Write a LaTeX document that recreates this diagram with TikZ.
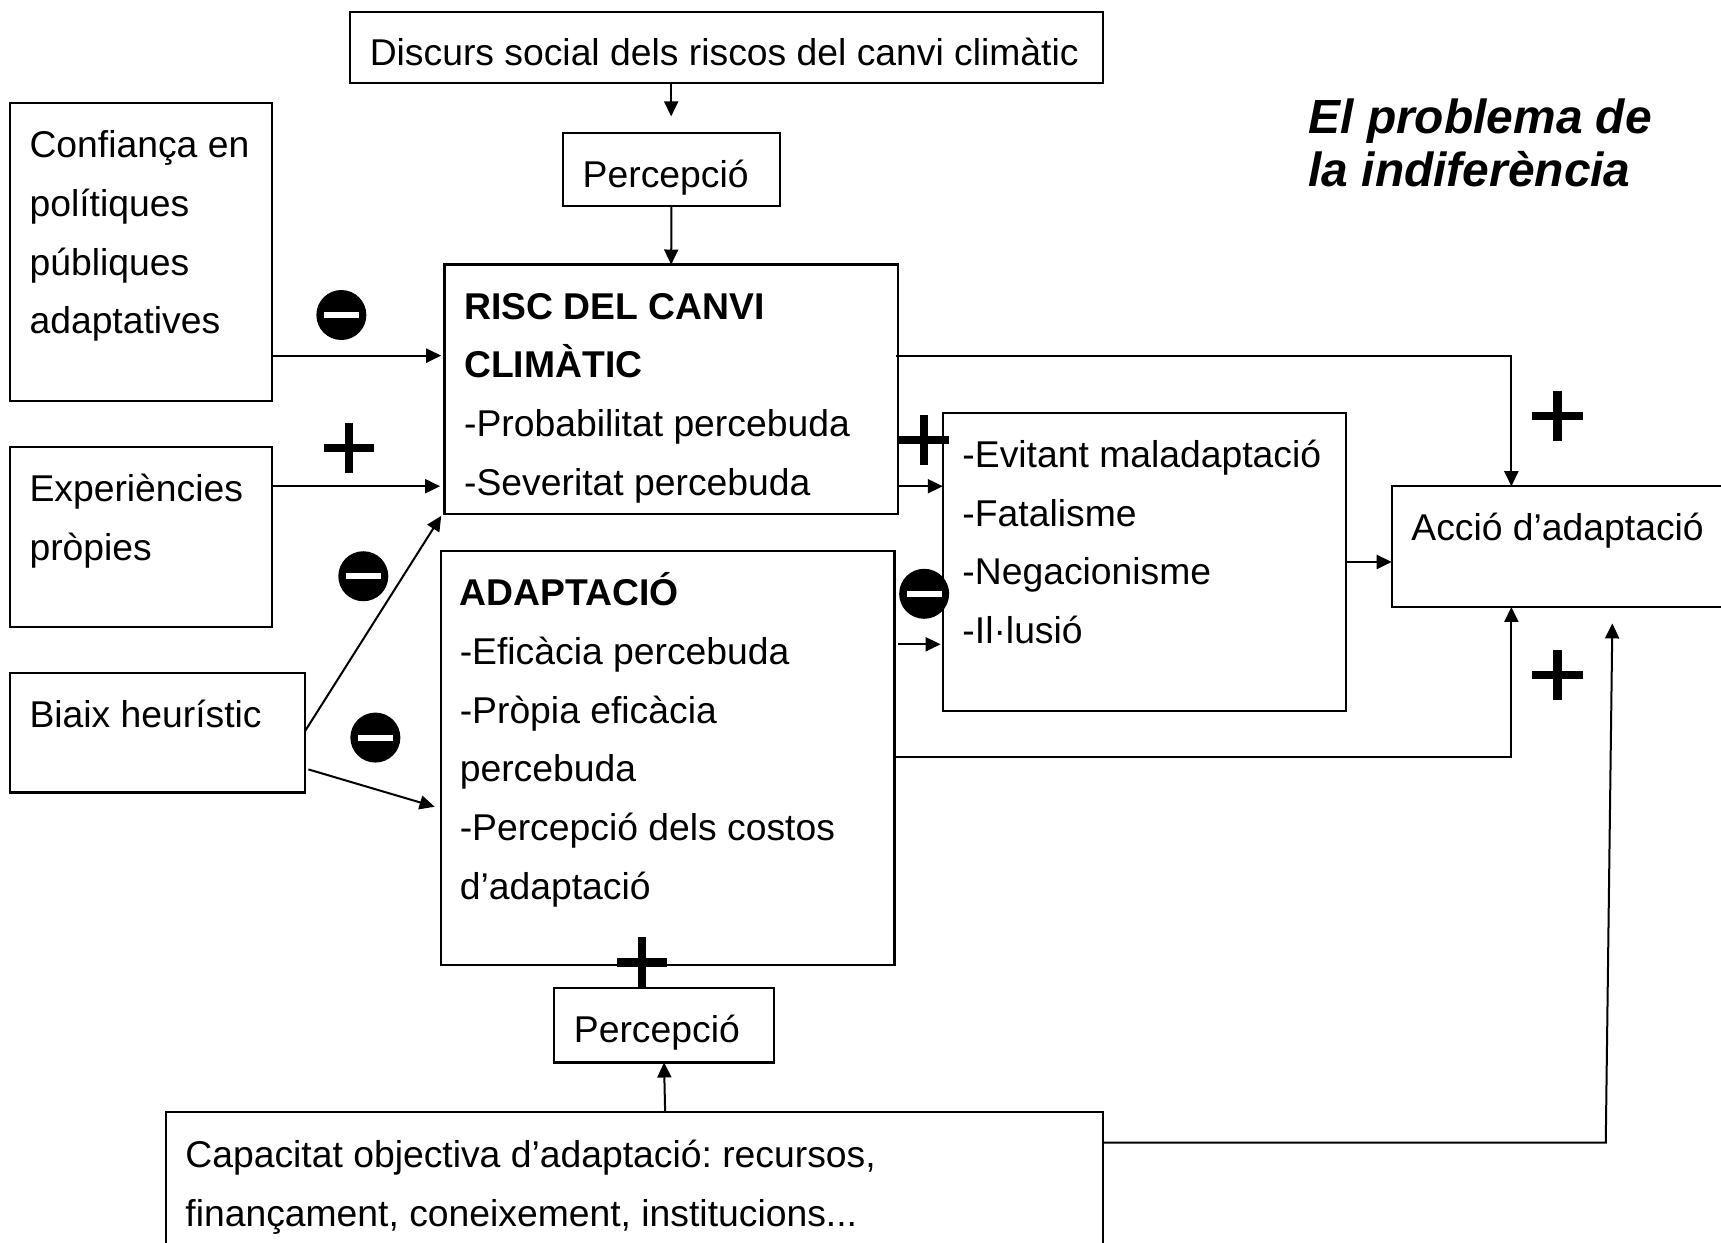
\documentclass[tikz,border=0pt]{standalone}
\usepackage{fontspec}
\setmainfont{Liberation Sans}
\usetikzlibrary{arrows.meta}
\frenchspacing
\newcommand{\fl}{\rule{0pt}{38pt}}
\tikzset{
  bx/.style={draw=black,line width=2.1pt,fill=white,inner sep=0pt,outer sep=0pt},
  txt/.style={anchor=north west,inner sep=0pt,yshift=37.3pt,xshift=-0.3pt,align=left,font=\fontsize{37.3}{58.7}\selectfont\frenchspacing},
  title/.style={anchor=north west,inner sep=0pt,yshift=40.6pt,align=left,font=\fontsize{47.9}{52.7}\selectfont\bfseries\itshape},
  conn/.style={draw=black,line width=2pt,-{Triangle[length=15pt,width=14pt]}},
  plusbar/.style={line width=8.5pt},
  minusdisc/.style={circle,fill=black,inner sep=0pt,minimum size=50pt},
  minusbar/.style={fill=white,draw=none,inner sep=0pt,minimum width=35pt,minimum height=6pt}
}
\newcommand{\plusat}[2]{\draw[plusbar] (#1-23,#2) -- (#1+23,#2) (#1,#2-23) -- (#1,#2+23);}
\newcommand{\minusat}[3]{\node[minusdisc] (#1) at (#2,#3) {}; \node[minusbar] (#1b) at (#1) {};}
\newcommand{\rect}[5]{\node[bx,anchor=north west,minimum width=#4*1.0976pt-#2*1.0976pt,minimum height=#5*1.0976pt-#3*1.0976pt] (#1) at (#2,#3) {};}
\begin{document}
\begin{tikzpicture}[x=1.0976pt,y=-1.0976pt]
\useasboundingbox (0,0) rectangle (1568,1131.6);
\clip (0,0) rectangle (1568,1131.6);
\fill[white] (0,0) rectangle (1568,1131.6);
% boxes
\rect{top}{319}{11}{1005}{76}
\rect{perA}{513}{121}{710.5}{188}
\rect{conf}{9}{94}{247.5}{365}
\rect{risc}{405}{241}{818}{468}
\rect{expe}{9}{407}{247.5}{571}
\rect{biaix}{9}{613}{277.5}{722}
\rect{adap}{401.5}{502}{815}{879}
\rect{resp}{859}{376}{1226}{648}
\rect{accio}{1268}{443}{1590}{553}
\rect{perB}{505}{900}{705.5}{968}
\rect{capa}{151}{1013}{1005}{1160}
% texts
\node[txt] (ttop) at (337,59) {\fl Discurs social dels riscos del canvi climàtic};
\node[txt] (tperA) at (531,170) {\fl Percepció};
\node[txt] (tconf) at (27,143) {\fl Confiança en\\polítiques\\públiques\\adaptatives};
\node[txt] (trisc) at (423,290) {\fl\textbf{RISC DEL CANVI}\\\textbf{CLIMÀTIC}\\-Probabilitat percebuda\\-Severitat percebuda};
\node[txt] (texpe) at (27,456) {\fl Experiències\\pròpies};
\node[txt] (tbiaix) at (27,662) {\fl Biaix heurístic};
\node[txt] (tadap) at (419,551) {\fl\textbf{ADAPTACIÓ}\\-Eficàcia percebuda\\-Pròpia eficàcia\\percebuda\\-Percepció dels costos\\d’adaptació};
\node[txt] (tresp) at (877,425) {\fl -Evitant maladaptació\\-Fatalisme\\-Negacionisme\\-Il·lusió};
\node[txt] (taccio) at (1286,492) {\fl Acció d’adaptació};
\node[txt] (tperB) at (523,949) {\fl Percepció};
\node[txt] (tcapa) at (169,1063) {\fl Capacitat objectiva d’adaptació: recursos,\\finançament, coneixement, institucions...};
\node[title] (ttitle) at (1192,122) {\rule{0pt}{40pt}El problema de\\la indiferència};
% free ends
\coordinate (e1) at (611.5,106);
\coordinate (c2) at (247.5,324);
\coordinate (e2) at (402,324);
\coordinate (c3) at (247.5,443);
\coordinate (e3) at (401,443);
\coordinate (s4) at (278,666);
\coordinate (e4) at (402,470);
\coordinate (s5) at (281,701);
\coordinate (e5) at (396,735);
\coordinate (s6) at (816,324);
\coordinate (k6) at (1377,324);
\coordinate (s7) at (818,443);
\coordinate (s8) at (818,587);
\coordinate (e8) at (857,587);
\coordinate (m9) at (1226,512);
\coordinate (s10) at (815,690);
\coordinate (k10) at (1377,690);
\coordinate (s11) at (606,1013);
\coordinate (e11) at (605,968);
\coordinate (s12) at (1005,1041);
\coordinate (k12) at (1463,1041);
\coordinate (e12) at (1469,568);
% connectors
\draw[conn] (top.south -| e1) -- (e1);
\draw[conn] (perA.south) -- (risc.north);
\draw[conn] (c2) -- (e2);
\draw[conn] (c3) -- (e3);
\draw[conn] (s4) -- (e4);
\draw[conn] (s5) -- (e5);
\draw[conn] (s6) -- (k6) -- (k6 |- accio.north);
\draw[conn] (s7) -- (s7 -| resp.west);
\draw[conn] (s8) -- (e8);
\draw[conn] (m9) -- (m9 -| accio.west);
\draw[conn] (s10) -- (k10) -- (k10 |- accio.south);
\draw[conn] (s11) -- (e11);
\draw[conn] (s12) -- (k12) -- (e12);
% signs
\plusat{318}{408}
\plusat{842}{401}
\plusat{1419}{379}
\plusat{1419}{615}
\plusat{585}{877}
\minusat{mA}{311}{287}
\minusat{mB}{331}{525}
\minusat{mC}{342}{672}
\minusat{mD}{842}{541}
\end{tikzpicture}
\end{document}
